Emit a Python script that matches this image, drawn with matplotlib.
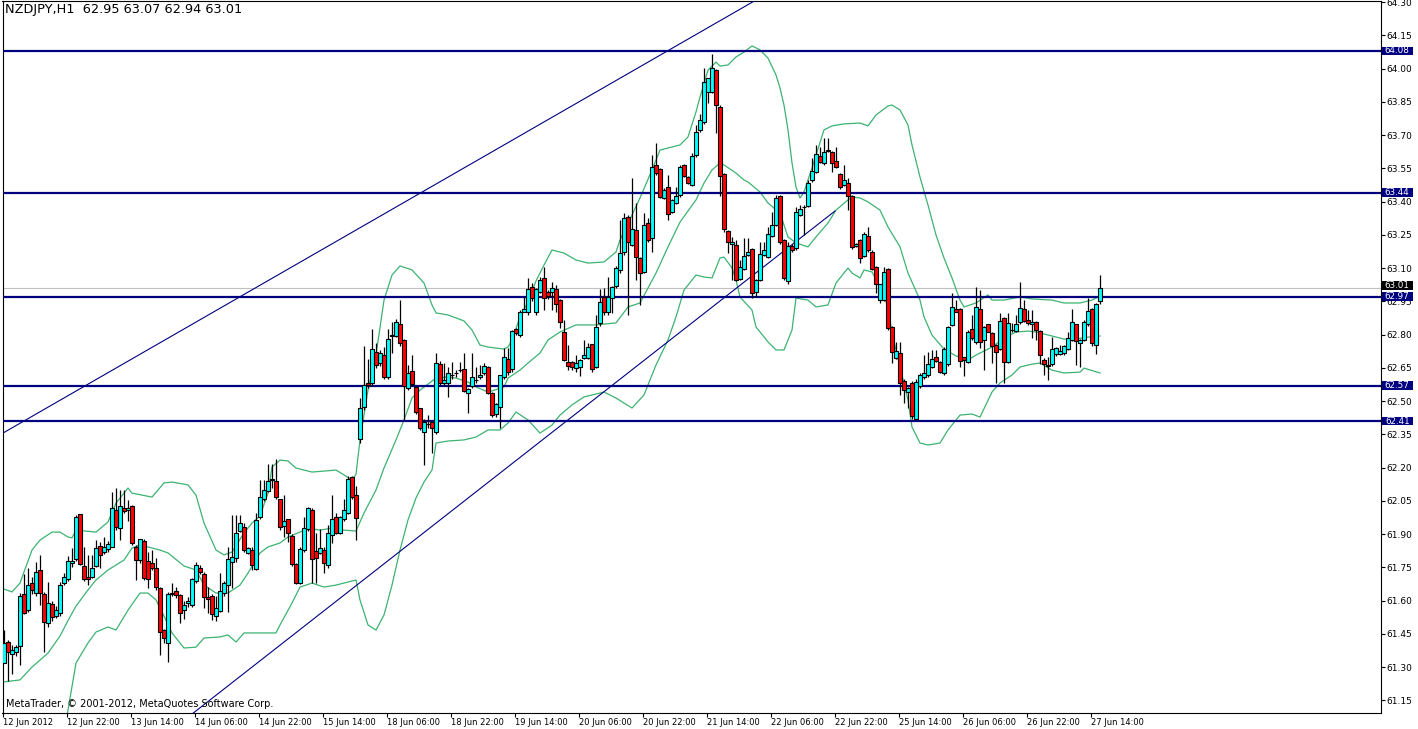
import numpy as np
import matplotlib
matplotlib.use("Agg")
import matplotlib.pyplot as plt
from matplotlib.patches import Rectangle
from matplotlib.transforms import blended_transform_factory

# ---------------- data ----------------
symbol_title = "NZDJPY,H1  62.95 63.07 62.94 63.01"
copyright_text = "MetaTrader, \u00a9 2001-2012, MetaQuotes Software Corp."

date_labels = ["12 Jun 2012", "12 Jun 22:00", "13 Jun 14:00", "14 Jun 06:00", "14 Jun 22:00",
               "15 Jun 14:00", "18 Jun 06:00", "18 Jun 22:00", "19 Jun 14:00", "20 Jun 06:00",
               "20 Jun 22:00", "21 Jun 14:00", "22 Jun 06:00", "22 Jun 22:00", "25 Jun 14:00",
               "26 Jun 06:00", "26 Jun 22:00", "27 Jun 14:00"]
date_label_bars = [0, 16, 32, 48, 64, 80, 96, 112, 128, 144, 160, 176, 192, 208, 224, 240, 256, 272]

price_ticks = [61.15, 61.30, 61.45, 61.60, 61.75, 61.90, 62.05, 62.20, 62.35, 62.50, 62.65,
               62.80, 62.95, 63.10, 63.25, 63.40, 63.55, 63.70, 63.85, 64.00, 64.15, 64.30]

opens = [
 61.317, 61.415, 61.359, 61.367, 61.397, 61.630, 61.558, 61.678, 61.636, 61.738,
 61.630, 61.498, 61.584, 61.531, 61.546, 61.678, 61.696, 61.769, 61.787, 61.990,
 61.758, 61.708, 61.705, 61.757, 61.847, 61.817, 61.833, 61.844, 62.009, 61.926,
 62.017, 62.010, 62.027, 61.844, 61.784, 61.869, 61.779, 61.769, 61.746, 61.656,
 61.468, 61.410, 61.630, 61.645, 61.626, 61.558, 61.590, 61.580, 61.690, 61.746,
 61.720, 61.615, 61.620, 61.530, 61.554, 61.633, 61.670, 61.776, 61.791, 61.915,
 61.934, 61.816, 61.828, 61.741, 61.976, 62.057, 62.096, 62.146, 62.141, 62.057,
 61.937, 61.967, 61.892, 61.765, 61.678, 61.828, 61.922, 62.009, 61.825, 61.816,
 61.828, 61.761, 61.896, 61.975, 61.905, 61.967, 61.997, 62.159, 62.076, 62.328,
 62.475, 62.583, 62.580, 62.723, 62.670, 62.710, 62.610, 62.795, 62.794, 62.848,
 62.776, 62.558, 62.637, 62.562, 62.467, 62.362, 62.397, 62.407, 62.362, 62.668,
 62.583, 62.583, 62.618, 62.625, 62.640, 62.645, 62.535, 62.568, 62.595, 62.607,
 62.625, 62.655, 62.538, 62.442, 62.475, 62.607, 62.689, 62.643, 62.824, 62.798,
 62.904, 62.900, 63.013, 62.904, 62.994, 63.054, 62.994, 62.994, 63.006, 62.956,
 62.813, 62.675, 62.675, 62.651, 62.655, 62.696, 62.696, 62.756, 62.655, 62.851,
 62.970, 62.900, 62.964, 63.020, 63.090, 63.174, 63.333, 63.205, 63.270, 63.144,
 63.084, 63.305, 63.234, 63.566, 63.547, 63.415, 63.468, 63.355, 63.393, 63.430,
 63.566, 63.510, 63.475, 63.611, 63.723, 63.761, 63.896, 63.896, 63.994, 63.829,
 63.525, 63.267, 63.210, 63.205, 63.050, 63.095, 63.160, 63.185, 62.994, 63.047,
 63.160, 63.152, 63.245, 63.295, 63.425, 63.227, 63.040, 63.200, 63.190, 63.340,
 63.374, 63.380, 63.498, 63.535, 63.606, 63.573, 63.628, 63.626, 63.584, 63.525,
 63.475, 63.483, 63.426, 63.200, 63.227, 63.155, 63.245, 63.174, 63.107, 62.956,
 62.956, 63.095, 62.836, 62.693, 62.716, 62.592, 62.540, 62.583, 62.420, 62.568,
 62.607, 62.616, 62.656, 62.697, 62.678, 62.626, 62.668, 62.844, 62.914, 62.914,
 62.698, 62.678, 62.824, 62.768, 62.914, 62.776, 62.848, 62.806, 62.753, 62.734,
 62.874, 62.678, 62.820, 62.818, 62.855, 62.914, 62.866, 62.846, 62.858, 62.817,
 62.686, 62.660, 62.668, 62.711, 62.713, 62.716, 62.734, 62.776, 62.846, 62.764,
 62.776, 62.848, 62.914, 62.753, 62.950]

highs = [
 61.468, 61.420, 61.400, 61.400, 61.633, 61.720, 61.746, 61.708, 61.776, 61.806,
 61.640, 61.686, 61.600, 61.576, 61.686, 61.723, 61.799, 61.836, 61.987, 61.990,
 61.844, 61.806, 61.806, 61.874, 61.866, 61.886, 61.870, 62.092, 62.107, 62.100,
 62.100, 62.054, 62.030, 61.850, 61.880, 61.880, 61.821, 61.829, 61.791, 61.660,
 61.470, 61.641, 61.681, 61.660, 61.630, 61.596, 61.618, 61.700, 61.776, 61.760,
 61.730, 61.663, 61.630, 61.620, 61.726, 61.690, 61.843, 61.986, 61.986, 61.986,
 61.950, 61.840, 61.840, 61.994, 62.144, 62.144, 62.216, 62.216, 62.237, 62.060,
 62.076, 61.970, 61.900, 61.770, 61.840, 61.979, 62.021, 62.020, 61.904, 61.922,
 61.840, 61.941, 62.076, 61.997, 61.980, 62.057, 62.160, 62.160, 62.117, 62.513,
 62.749, 62.689, 62.824, 62.761, 62.730, 62.746, 62.824, 62.859, 62.870, 62.956,
 62.780, 62.663, 62.708, 62.570, 62.470, 62.420, 62.437, 62.410, 62.719, 62.680,
 62.670, 62.655, 62.678, 62.640, 62.678, 62.716, 62.560, 62.716, 62.655, 62.663,
 62.674, 62.660, 62.540, 62.490, 62.620, 62.738, 62.738, 62.820, 62.830, 62.910,
 62.971, 63.054, 63.032, 63.010, 63.060, 63.107, 63.000, 63.039, 63.024, 62.960,
 62.866, 62.753, 62.680, 62.708, 62.690, 62.776, 62.761, 62.760, 62.889, 63.006,
 63.009, 63.062, 63.020, 63.110, 63.317, 63.347, 63.340, 63.505, 63.393, 63.150,
 63.347, 63.325, 63.611, 63.663, 63.550, 63.460, 63.520, 63.410, 63.468, 63.565,
 63.570, 63.515, 63.618, 63.746, 63.796, 64.002, 63.960, 64.066, 64.000, 63.835,
 63.530, 63.270, 63.242, 63.227, 63.137, 63.235, 63.235, 63.190, 63.050, 63.220,
 63.220, 63.287, 63.355, 63.430, 63.430, 63.230, 63.220, 63.210, 63.377, 63.385,
 63.385, 63.498, 63.596, 63.656, 63.648, 63.686, 63.686, 63.630, 63.648, 63.530,
 63.565, 63.505, 63.430, 63.215, 63.230, 63.265, 63.287, 63.180, 63.110, 63.030,
 63.107, 63.100, 62.840, 62.768, 62.768, 62.600, 62.565, 62.590, 62.600, 62.625,
 62.708, 62.723, 62.731, 62.731, 62.680, 62.743, 62.840, 62.987, 62.957, 62.920,
 62.700, 62.820, 62.889, 63.017, 63.002, 62.840, 62.850, 62.810, 62.760, 62.896,
 62.880, 62.896, 62.851, 62.889, 63.039, 62.957, 62.911, 62.911, 62.860, 62.820,
 62.693, 62.701, 62.791, 62.745, 62.753, 62.755, 62.814, 62.914, 62.850, 62.780,
 62.865, 62.964, 62.920, 62.945, 63.070]

lows = [
 61.317, 61.235, 61.269, 61.350, 61.310, 61.540, 61.550, 61.630, 61.620, 61.580,
 61.367, 61.480, 61.510, 61.520, 61.530, 61.670, 61.690, 61.750, 61.780, 61.760,
 61.690, 61.671, 61.700, 61.750, 61.746, 61.810, 61.820, 61.840, 61.920, 61.874,
 61.994, 61.957, 61.850, 61.693, 61.770, 61.693, 61.656, 61.740, 61.650, 61.355,
 61.410, 61.325, 61.620, 61.610, 61.498, 61.516, 61.570, 61.570, 61.680, 61.720,
 61.565, 61.543, 61.512, 61.509, 61.550, 61.620, 61.550, 61.655, 61.776, 61.910,
 61.820, 61.810, 61.738, 61.740, 61.970, 62.050, 62.090, 62.107, 62.060, 61.920,
 61.888, 61.866, 61.755, 61.675, 61.675, 61.820, 61.915, 61.678, 61.678, 61.810,
 61.723, 61.746, 61.858, 61.900, 61.900, 61.960, 61.990, 62.060, 61.873, 62.313,
 62.460, 62.560, 62.570, 62.650, 62.660, 62.600, 62.600, 62.716, 62.790, 62.750,
 62.415, 62.550, 62.570, 62.440, 62.370, 62.212, 62.380, 62.264, 62.350, 62.575,
 62.570, 62.520, 62.600, 62.610, 62.630, 62.540, 62.445, 62.560, 62.580, 62.600,
 62.620, 62.530, 62.430, 62.430, 62.377, 62.600, 62.620, 62.630, 62.800, 62.790,
 62.900, 62.890, 62.950, 62.890, 62.990, 62.911, 62.960, 62.911, 62.904, 62.828,
 62.680, 62.640, 62.640, 62.630, 62.615, 62.690, 62.690, 62.633, 62.650, 62.840,
 62.890, 62.890, 62.896, 63.010, 63.080, 63.160, 62.889, 63.200, 63.047, 62.934,
 63.080, 63.220, 63.174, 63.520, 63.415, 63.410, 63.317, 63.350, 63.390, 63.420,
 63.510, 63.478, 63.470, 63.600, 63.715, 63.750, 63.844, 63.890, 63.708, 63.426,
 63.265, 63.167, 63.046, 63.040, 63.045, 63.090, 63.155, 62.964, 62.971, 63.040,
 63.155, 63.145, 63.240, 63.290, 63.210, 63.047, 63.030, 63.175, 63.180, 63.335,
 63.250, 63.375, 63.490, 63.530, 63.575, 63.565, 63.625, 63.535, 63.550, 63.458,
 63.470, 63.363, 63.188, 63.195, 63.125, 63.150, 63.175, 63.090, 62.986, 62.941,
 62.950, 62.820, 62.670, 62.690, 62.527, 62.490, 62.467, 62.420, 62.415, 62.560,
 62.600, 62.610, 62.650, 62.675, 62.626, 62.620, 62.660, 62.840, 62.900, 62.656,
 62.613, 62.670, 62.775, 62.760, 62.738, 62.641, 62.810, 62.671, 62.583, 62.730,
 62.580, 62.670, 62.810, 62.810, 62.850, 62.855, 62.845, 62.783, 62.776, 62.668,
 62.618, 62.595, 62.660, 62.705, 62.710, 62.710, 62.730, 62.770, 62.663, 62.656,
 62.770, 62.840, 62.749, 62.713, 62.940]

closes = [
 61.410, 61.367, 61.377, 61.389, 61.621, 61.546, 61.671, 61.648, 61.728, 61.636,
 61.505, 61.588, 61.528, 61.558, 61.671, 61.708, 61.779, 61.779, 61.979, 61.766,
 61.696, 61.696, 61.746, 61.836, 61.806, 61.844, 61.854, 62.020, 61.934, 62.027,
 62.006, 62.017, 61.859, 61.784, 61.877, 61.701, 61.696, 61.746, 61.663, 61.456,
 61.430, 61.629, 61.636, 61.626, 61.546, 61.581, 61.596, 61.697, 61.761, 61.728,
 61.618, 61.606, 61.539, 61.565, 61.645, 61.678, 61.786, 61.798, 61.907, 61.949,
 61.828, 61.836, 61.761, 61.964, 62.066, 62.099, 62.141, 62.147, 62.066, 61.934,
 61.958, 61.907, 61.765, 61.681, 61.834, 61.926, 62.016, 61.786, 61.791, 61.836,
 61.768, 61.907, 61.966, 61.906, 61.975, 62.009, 62.147, 62.066, 61.971, 62.467,
 62.573, 62.573, 62.734, 62.663, 62.715, 62.610, 62.780, 62.797, 62.859, 62.764,
 62.568, 62.628, 62.577, 62.452, 62.377, 62.407, 62.399, 62.377, 62.674, 62.583,
 62.595, 62.625, 62.620, 62.626, 62.642, 62.547, 62.557, 62.607, 62.597, 62.618,
 62.658, 62.535, 62.437, 62.486, 62.618, 62.698, 62.633, 62.818, 62.809, 62.904,
 62.914, 63.004, 62.964, 63.004, 63.047, 62.964, 62.974, 63.012, 62.940, 62.855,
 62.685, 62.660, 62.655, 62.670, 62.685, 62.708, 62.746, 62.645, 62.836, 62.949,
 62.900, 62.970, 63.016, 63.100, 63.167, 63.325, 63.220, 63.275, 63.152, 63.077,
 63.295, 63.227, 63.558, 63.531, 63.422, 63.455, 63.343, 63.407, 63.425, 63.558,
 63.516, 63.483, 63.606, 63.716, 63.768, 63.941, 63.957, 64.002, 63.836, 63.516,
 63.275, 63.220, 63.220, 63.047, 63.107, 63.155, 63.175, 62.990, 63.046, 63.164,
 63.180, 63.254, 63.295, 63.415, 63.220, 63.054, 63.200, 63.180, 63.355, 63.365,
 63.376, 63.483, 63.540, 63.615, 63.580, 63.626, 63.631, 63.573, 63.558, 63.465,
 63.498, 63.426, 63.194, 63.210, 63.144, 63.253, 63.180, 63.095, 63.028, 63.028,
 63.084, 62.828, 62.723, 62.727, 62.580, 62.550, 62.558, 62.433, 62.588, 62.618,
 62.628, 62.667, 62.688, 62.681, 62.633, 62.734, 62.836, 62.926, 62.904, 62.683,
 62.686, 62.814, 62.783, 62.923, 62.768, 62.833, 62.814, 62.749, 62.723, 62.863,
 62.678, 62.851, 62.822, 62.848, 62.922, 62.863, 62.851, 62.858, 62.821, 62.708,
 62.668, 62.662, 62.734, 62.738, 62.728, 62.749, 62.783, 62.857, 62.773, 62.776,
 62.859, 62.907, 62.761, 62.938, 63.010]

upper_bars = [0, 2, 4, 7, 9, 12, 14, 16, 17, 18, 23, 26, 28, 31, 32, 37, 40, 42, 46, 48,
              50, 53, 55, 57, 60, 62, 64, 66, 67, 69, 71, 73, 77, 83, 85, 87, 88, 89, 91, 93,
              95, 97, 99, 102, 105, 107, 108, 111, 115, 117, 119, 121, 125, 126, 127, 129, 131, 133, 135, 137,
              140, 143, 146, 150, 153, 154, 157, 159, 162, 164, 167, 169, 171, 173, 174, 176, 178, 179, 181, 183,
              185, 187, 189, 191, 193, 194, 195, 196, 197, 198, 199, 200, 202, 205, 207, 210, 214, 216, 218, 221,
              222, 224, 226, 227, 229, 231, 233, 235, 237, 239, 240, 243, 246, 247, 250, 254, 257, 262, 265, 269,
              272, 274]
upper_vals = [61.652, 61.639, 61.679, 61.828, 61.873, 61.909, 61.909, 61.887, 61.883, 61.918, 61.909, 61.955, 62.040, 62.108, 62.085, 62.067, 62.131, 62.135, 62.122, 62.076,
              61.950, 61.828, 61.806, 61.819, 61.905, 61.950, 61.982, 62.085, 62.203, 62.234, 62.230, 62.198, 62.180, 62.189, 62.167, 62.144, 62.170, 62.325, 62.550, 62.708,
              62.956, 63.069, 63.110, 63.092, 63.033, 62.934, 62.898, 62.889, 62.862, 62.821, 62.753, 62.744, 62.735, 62.744, 62.776, 62.880, 62.947, 63.042, 63.114, 63.182,
              63.168, 63.137, 63.123, 63.128, 63.173, 63.227, 63.340, 63.417, 63.543, 63.633, 63.647, 63.656, 63.692, 63.805, 63.872, 63.994, 64.030, 64.012, 64.017, 64.053,
              64.075, 64.103, 64.085, 64.048, 63.972, 63.913, 63.836, 63.724, 63.575, 63.466, 63.417, 63.444, 63.552, 63.724, 63.742, 63.751, 63.755, 63.742, 63.791, 63.832,
              63.836, 63.814, 63.746, 63.656, 63.511, 63.385, 63.250, 63.146, 63.056, 62.956, 62.925, 62.943, 62.979, 62.956, 62.956, 62.970, 62.961, 62.956, 62.943, 62.943,
              62.956, 62.974]

middle_bars = [0, 4, 7, 11, 14, 16, 18, 21, 23, 26, 30, 32, 34, 36, 39, 41, 45, 48, 50, 53,
               56, 59, 61, 64, 66, 69, 71, 74, 76, 79, 82, 85, 88, 90, 93, 95, 98, 100, 102, 104,
               108, 111, 113, 116, 118, 121, 122, 125, 126, 129, 131, 134, 136, 139, 143, 148, 153, 156, 159, 163,
               166, 169, 173, 175, 177, 179, 180, 183, 185, 186, 189, 191, 194, 196, 198, 201, 203, 206, 208, 211,
               212, 214, 216, 219, 221, 224, 226, 229, 230, 232, 235, 238, 241, 243, 247, 250, 253, 256, 258, 262,
               265, 268, 271, 274]
middle_vals = [61.233, 61.242, 61.300, 61.363, 61.440, 61.510, 61.575, 61.648, 61.693, 61.738, 61.783, 61.837, 61.851, 61.842, 61.828, 61.815, 61.756, 61.738, 61.670, 61.634,
               61.634, 61.670, 61.724, 61.815, 61.842, 61.860, 61.887, 61.909, 61.927, 61.918, 61.927, 61.918, 61.914, 61.995, 62.099, 62.198, 62.325, 62.415, 62.514, 62.550,
               62.604, 62.609, 62.604, 62.586, 62.564, 62.541, 62.546, 62.564, 62.604, 62.640, 62.672, 62.717, 62.776, 62.812, 62.844, 62.844, 62.853, 62.925, 62.943, 63.078,
               63.196, 63.308, 63.408, 63.484, 63.543, 63.575, 63.566, 63.529, 63.498, 63.489, 63.444, 63.394, 63.349, 63.241, 63.214, 63.196, 63.241, 63.304, 63.362, 63.408,
               63.421, 63.417, 63.399, 63.362, 63.286, 63.196, 63.078, 62.956, 62.880, 62.798, 62.735, 62.704, 62.686, 62.708, 62.744, 62.785, 62.812, 62.816, 62.812, 62.794,
               62.780, 62.780, 62.789, 62.794]

lower_bars = [0, 4, 7, 11, 13, 14, 16, 18, 21, 23, 26, 28, 31, 34, 36, 38, 40, 42, 45, 48,
              50, 54, 56, 58, 60, 64, 68, 69, 72, 74, 77, 80, 83, 85, 88, 89, 91, 93, 95, 97,
              99, 101, 103, 105, 107, 108, 111, 115, 118, 121, 124, 126, 128, 131, 134, 137, 139, 142, 145, 150,
              153, 157, 160, 163, 166, 168, 170, 173, 175, 177, 179, 180, 182, 183, 184, 187, 188, 191, 193, 195,
              197, 198, 201, 203, 206, 208, 211, 212, 214, 215, 217, 219, 221, 222, 224, 226, 227, 229, 231, 234,
              236, 239, 242, 244, 247, 249, 252, 254, 257, 259, 262, 265, 269, 270, 274]
lower_vals = [60.817, 60.800, 60.777, 60.817, 60.880, 60.930, 61.106, 61.318, 61.409, 61.458, 61.481, 61.467, 61.557, 61.634, 61.634, 61.603, 61.530, 61.454, 61.386, 61.390,
              61.431, 61.436, 61.445, 61.413, 61.454, 61.454, 61.454, 61.490, 61.589, 61.661, 61.679, 61.661, 61.670, 61.679, 61.693, 61.603, 61.490, 61.467, 61.535, 61.670,
              61.828, 61.964, 62.063, 62.135, 62.189, 62.311, 62.320, 62.325, 62.338, 62.370, 62.370, 62.401, 62.451, 62.415, 62.356, 62.392, 62.437, 62.483, 62.519, 62.541,
              62.514, 62.469, 62.528, 62.663, 62.776, 62.880, 63.001, 63.069, 63.060, 63.056, 63.146, 63.150, 63.101, 63.047, 62.970, 62.911, 62.835, 62.767, 62.731, 62.731,
              62.821, 62.965, 62.956, 62.925, 62.934, 63.033, 63.101, 63.078, 63.056, 63.092, 63.083, 63.015, 62.925, 62.807, 62.654, 62.505, 62.383, 62.311, 62.302, 62.311,
              62.370, 62.437, 62.442, 62.428, 62.541, 62.582, 62.618, 62.654, 62.667, 62.672, 62.640, 62.627, 62.631, 62.649, 62.627]

# user-drawn objects
level_prices = [64.08, 63.44, 62.97, 62.57, 62.41]
bid_price = 63.01
trend_up_anchor = [(-0.25, 62.356), (186.75, 64.297)]
trend_low_anchor = [(71.5, 61.434), (207.75, 63.358)]

# ---------------- drawing ----------------
W, H = 1418, 729
AX_L, AX_R, AX_T, AX_B = 2.5, 1380.5, 1.0, 712.5
fig = plt.figure(figsize=(W / 100, H / 100), dpi=100, facecolor="white")
ax = fig.add_axes([AX_L / W, (H - AX_B) / H, (AX_R - AX_L) / W, (AX_B - AX_T) / H])
ax.set_facecolor("white")
y_lo, y_hi = 61.095, 64.3056
ax.set_xlim(-0.375, 344.125)
ax.set_ylim(y_lo, y_hi)
px_per_price = (AX_B - AX_T) / (y_hi - y_lo)
ax_w_px = AX_R - AX_L

o = np.array(opens); h = np.array(highs); l = np.array(lows); c = np.array(closes)
idx = np.arange(len(c))
bb = np.minimum(o, c)
bt = np.maximum(o, c)
up = c >= o

band_color = "#3CB371"
ax.plot(upper_bars, upper_vals, color=band_color, lw=0.9, zorder=2)
ax.plot(middle_bars, middle_vals, color=band_color, lw=0.9, zorder=2)
ax.plot(lower_bars, lower_vals, color=band_color, lw=0.9, zorder=2)

navy = "#000080"
ax.axhline(bid_price, color="#C0C0C0", lw=0.8, zorder=1.5)
for lv in level_prices:
    ax.axhline(lv, color=navy, lw=1.6, zorder=3)

(x1, y1), (x2, y2) = trend_up_anchor
ax.axline((x1, y1), (x2, y2), color=navy, lw=0.8, zorder=3)
(a1, b1), (a2, b2) = trend_low_anchor
slope = (b2 - b1) / (a2 - a1)
ax.plot([a2 - 200, a2], [b2 - 200 * slope, b2], color=navy, lw=0.8, zorder=3)

ax.vlines(idx, np.minimum(l, bb), np.maximum(h, bt), color="black", lw=0.9, zorder=4)
ax.bar(idx[up], (bt - bb)[up], bottom=bb[up], width=0.82, color="#00FFFF",
       edgecolor="black", linewidth=0.8, zorder=5)
ax.bar(idx[~up], (bt - bb)[~up], bottom=bb[~up], width=0.82, color="#FF0000",
       edgecolor="black", linewidth=0.8, zorder=5)

# axes styling
for s in ax.spines.values():
    s.set_color("black")
    s.set_linewidth(0.8)
ax.yaxis.tick_right()
ax.set_yticks(price_ticks)
ax.set_yticklabels(["%.2f" % p for p in price_ticks], fontsize=6.5, family="DejaVu Sans")
ax.tick_params(axis="y", direction="out", length=3, width=0.8, pad=1.5, colors="black")
ax.set_xticks([b - 0.3 for b in date_label_bars])
ax.set_xticklabels(date_labels, fontsize=6, family="DejaVu Sans")
for lbl in ax.get_xticklabels():
    lbl.set_horizontalalignment("left")
ax.tick_params(axis="x", direction="out", length=3, width=0.8, pad=0.8, colors="black")

# price labels on the right axis (boxes drawn as patches, text on top)
trans = blended_transform_factory(ax.transAxes, ax.transData)
label_shift_px = {63.01: 2.3, 62.97: 0.7}
box_w_px, box_h_px = 31.0, 8.8
for lv in level_prices + [bid_price]:
    fc = "black" if lv == bid_price else navy
    yc = lv + label_shift_px.get(lv, 0.0) / px_per_price
    rect = Rectangle((1.0 + 1.2 / ax_w_px, yc - box_h_px / 2 / px_per_price),
                     box_w_px / ax_w_px, box_h_px / px_per_price,
                     transform=trans, facecolor=fc, edgecolor="none",
                     clip_on=False, zorder=10)
    ax.add_patch(rect)
    ax.text(1.0 + (1.2 + box_w_px / 2) / ax_w_px, yc, "%.2f" % lv, transform=trans,
            ha="center", va="center", fontsize=6.3, color="white",
            family="DejaVu Sans", clip_on=False, zorder=11)

fig.text(5 / W, 1 - 10 / H, symbol_title, fontsize=9.3, family="DejaVu Sans",
         ha="left", va="center", color="black")
fig.text(6 / W, 1 - 704 / H, copyright_text, fontsize=7, family="DejaVu Sans",
         ha="left", va="center", color="black")

fig.savefig("out.png", dpi=100, facecolor="white")
